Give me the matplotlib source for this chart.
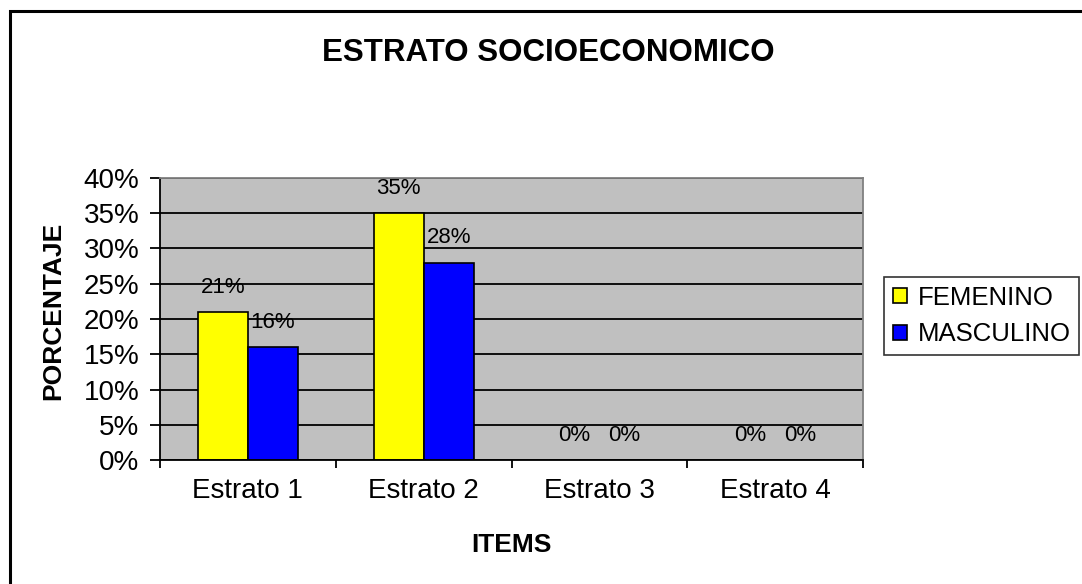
import numpy as np
import matplotlib as mpl
mpl.use('Agg')
import matplotlib.pyplot as plt
from matplotlib.patches import Rectangle

# data
categories = ['Estrato 1', 'Estrato 2', 'Estrato 3', 'Estrato 4']
femenino = [21, 35, 0, 0]
masculino = [16, 28, 0, 0]
yticks = [0, 5, 10, 15, 20, 25, 30, 35, 40]

plt.rcParams['font.family'] = ['Liberation Sans', 'DejaVu Sans']

fig = plt.figure(figsize=(10.82, 5.84), dpi=100)
ax = fig.add_axes([160/1082, 1-460/584, 703/1082, 282/584])

# outer frame (only left and top visible in the reference)
fig.patches.append(Rectangle((10/1082, -0.2), 1.3, 1.2 - 11/584,
                             transform=fig.transFigure, fill=False,
                             edgecolor='black', linewidth=2.2))

x = np.arange(len(categories))
w = 0.285
ax.set_facecolor('#c0c0c0')
ax.set_axisbelow(True)
ax.yaxis.grid(True, color='black', linewidth=1.3)

ax.bar(x - w/2, femenino, w, color='#ffff00', edgecolor='black', linewidth=1.2, label='FEMENINO')
ax.bar(x + w/2, masculino, w, color='#0000ff', edgecolor='black', linewidth=1.2, label='MASCULINO')

for i in range(len(x)):
    ax.text(x[i] - w/2, femenino[i] + 3.5, str(femenino[i]) + '%', ha='center', va='center', fontsize=16)
    ax.text(x[i] + w/2, masculino[i] + 3.5, str(masculino[i]) + '%', ha='center', va='center', fontsize=16)

ax.set_xlim(-0.5, 3.5)
ax.set_ylim(0, 40)
ax.set_yticks(yticks)
ax.set_yticklabels([str(v) + '%' for v in yticks], fontsize=20)
ax.set_xticks([-0.5, 0.5, 1.5, 2.5, 3.5])
ax.set_xticklabels([])
ax.set_xticks(x, minor=True)
ax.set_xticklabels(categories, minor=True, fontsize=20)
ax.tick_params(axis='x', which='minor', length=0, pad=13)
ax.tick_params(axis='x', which='major', direction='out', length=6, width=1.3)
ax.tick_params(axis='y', direction='out', length=7, width=1.3, pad=8)

for s in ['top', 'right']:
    ax.spines[s].set_color('#808080')
    ax.spines[s].set_linewidth(1.3)
for s in ['left', 'bottom']:
    ax.spines[s].set_linewidth(1.3)

ax.set_xlabel('ITEMS', fontsize=19, fontweight='bold', labelpad=21)
ax.set_ylabel('PORCENTAJE', fontsize=19, fontweight='bold')
ax.yaxis.set_label_coords(-0.135, 0.53)

fig.text(548/1082, 1-53/584, 'ESTRATO SOCIOECONOMICO', ha='center', va='center',
         fontsize=22.5, fontweight='bold')

leg = fig.legend(loc='center left', bbox_to_anchor=(884/1082, 1-316/584), fontsize=18.5,
                 frameon=True, fancybox=False, edgecolor='black', handlelength=0.55,
                 handleheight=0.55, handletextpad=0.4, borderpad=0.35, labelspacing=0.5,
                 borderaxespad=0)
leg.get_frame().set_linewidth(1.2)

fig.savefig('out.png', dpi=100)
